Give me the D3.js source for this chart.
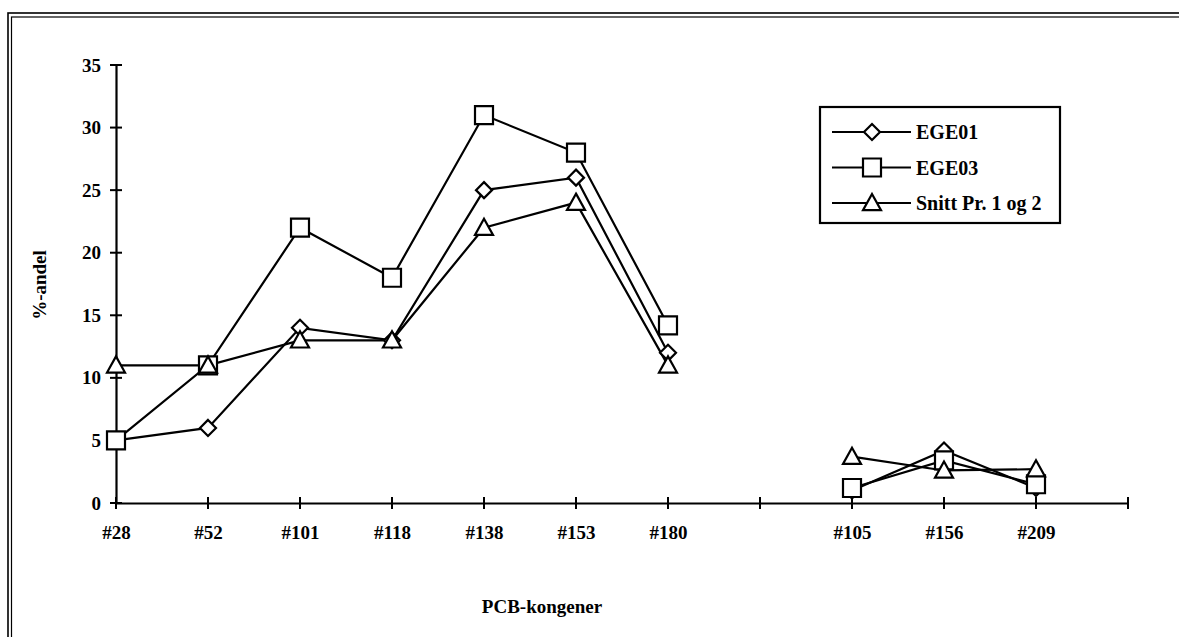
<!DOCTYPE html>
<html><head><meta charset="utf-8">
<script src="https://cdn.jsdelivr.net/npm/d3@7"></script>
<style>
html,body{margin:0;padding:0;background:#fff;}
svg{display:block;}
text{font-family:"Liberation Serif","Times New Roman",serif;font-weight:bold;fill:#000;}
</style></head>
<body>
<svg id="chart" width="1179" height="637"></svg>
<script>
const categories = ["#28","#52","#101","#118","#138","#153","#180","","#105","#156","#209",""];
const ege01 = [5, 6, 14, 13, 25, 26, 12, null, 1.0, 4.2, 1.2, null];
const ege03 = [5, 11, 22, 18, 31, 28, 14.2, null, 1.2, 3.4, 1.5, null];
const snitt = [11, 11, 13, 13, 22, 24, 11, null, 3.7, 2.6, 2.7, null];
const yTicks = [0, 5, 10, 15, 20, 25, 30, 35];
const seriesNames = ["EGE01", "EGE03", "Snitt Pr. 1 og 2"];
const seriesShapes = ["diamond", "square", "triangle"];

const svg = d3.select("#chart");

// outer double frame
svg.append("rect").attr("x", 8).attr("y", 13).attr("width", 1200).attr("height", 700)
  .attr("fill", "none").attr("stroke", "#000").attr("stroke-width", 1.6);
svg.append("rect").attr("x", 11.5).attr("y", 17).attr("width", 1200).attr("height", 700)
  .attr("fill", "none").attr("stroke", "#000").attr("stroke-width", 1.2);

const x = d3.scalePoint().domain(d3.range(categories.length)).range([116, 1128]);
const y = d3.scaleLinear().domain([0, 35]).range([503, 65]);

const FS = 19;

// Y axis
const yAxis = svg.append("g").attr("transform", "translate(116,0)")
  .call(d3.axisLeft(y).tickValues(yTicks).tickSize(0).tickPadding(15));
yAxis.attr("font-size", FS).attr("font-family", "Liberation Serif");
yAxis.select(".domain").attr("stroke", "#000").attr("stroke-width", 2.2);
yAxis.selectAll("text").attr("font-size", FS).attr("font-weight", "bold");
svg.append("g").selectAll("line").data(yTicks).join("line")
  .attr("x1", 110).attr("x2", 122).attr("y1", d => y(d)).attr("y2", d => y(d))
  .attr("stroke", "#000").attr("stroke-width", 2);

// X axis
const xAxis = svg.append("g").attr("transform", `translate(0,${y(0)})`)
  .call(d3.axisBottom(x).tickFormat(i => categories[i]).tickSize(0).tickPadding(23));
xAxis.attr("font-size", FS).attr("font-family", "Liberation Serif");
xAxis.select(".domain").attr("stroke", "#000").attr("stroke-width", 2.2);
xAxis.selectAll("text").attr("font-size", FS).attr("font-weight", "bold");
svg.append("g").selectAll("line").data(d3.range(categories.length)).join("line")
  .attr("x1", d => x(d)).attr("x2", d => x(d)).attr("y1", y(0) - 6).attr("y2", y(0) + 6)
  .attr("stroke", "#000").attr("stroke-width", 2);

// axis titles
svg.append("text").attr("transform", "translate(46,285) rotate(-90)")
  .attr("text-anchor", "middle").attr("font-size", FS).text("%-andel");
svg.append("text").attr("x", 542).attr("y", 613)
  .attr("text-anchor", "middle").attr("font-size", FS).text("PCB-kongener");

const symbolPath = {
  diamond: s => `M0,${-s}L${s},0L0,${s}L${-s},0Z`,
  square: s => `M${-s},${-s}H${s}V${s}H${-s}Z`,
  triangle: s => `M0,${-s}L${s},${s*0.8}H${-s}Z`
};
const symbolSize = {diamond: 8, square: 9, triangle: 9};

const allSeries = [ege01, ege03, snitt];
const line = d3.line().defined(d => d.v != null).x(d => x(d.i)).y(d => y(d.v));

allSeries.forEach((vals, k) => {
  const pts = vals.map((v, i) => ({i, v}));
  svg.append("path").datum(pts).attr("d", line)
    .attr("fill", "none").attr("stroke", "#000").attr("stroke-width", 2.2);
});
allSeries.forEach((vals, k) => {
  const pts = vals.map((v, i) => ({i, v})).filter(d => d.v != null);
  const sh = seriesShapes[k];
  svg.append("g").selectAll("path").data(pts).join("path")
    .attr("transform", d => `translate(${x(d.i)},${y(d.v)})`)
    .attr("d", symbolPath[sh](symbolSize[sh]))
    .attr("fill", "#fff").attr("stroke", "#000").attr("stroke-width", 2.2);
});

// legend
const lg = svg.append("g");
lg.append("rect").attr("x", 820).attr("y", 107).attr("width", 240).attr("height", 116)
  .attr("fill", "#fff").attr("stroke", "#000").attr("stroke-width", 2.2);
seriesNames.forEach((name, k) => {
  const cy = 132 + k * 35.5;
  lg.append("line").attr("x1", 832).attr("x2", 911).attr("y1", cy).attr("y2", cy)
    .attr("stroke", "#000").attr("stroke-width", 2.2);
  const sh = seriesShapes[k];
  lg.append("path").attr("transform", `translate(872,${cy})`)
    .attr("d", symbolPath[sh](symbolSize[sh]))
    .attr("fill", "#fff").attr("stroke", "#000").attr("stroke-width", 2.2);
  lg.append("text").attr("x", 916).attr("y", cy + 7).attr("font-size", 20).text(name);
});
</script>
</body></html>
